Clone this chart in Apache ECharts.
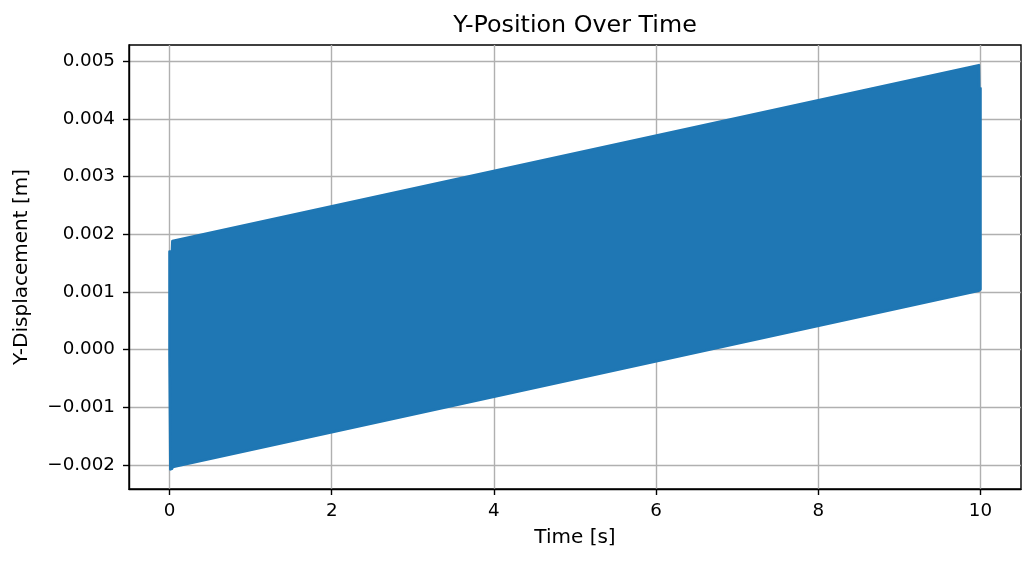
<!DOCTYPE html>
<html>
<head>
<meta charset="utf-8">
<script src="https://cdn.jsdelivr.net/npm/echarts@6/dist/echarts.min.js"></script>
<style>
  html, body { margin: 0; padding: 0; background: #fff; }
  #chart { width: 1036px; height: 563px; }
</style>
</head>
<body>
<div id="chart"></div>
<script>
// 上包络线 (time [s], displacement [m]) 从左到右
var upperTime = [0.000, 0.000, 0.030, 0.035, 9.980, 9.985, 10.000];
var upperDisp = [-0.0001, 0.00170, 0.00170, 0.00188, 0.00493, 0.00453, 0.00453];
// 下包络线 从左到右
var lowerTime = [0.000, 0.010, 0.030, 0.040, 9.980, 10.000];
var lowerDisp = [-0.0001, -0.00208, -0.00207, -0.00204, 0.00102, 0.00104];

var xTicks = [0, 2, 4, 6, 8, 10];
var yTicks = [-0.002, -0.001, 0.000, 0.001, 0.002, 0.003, 0.004, 0.005];

// 轮廓: 上沿正序 + 下沿倒序
var band = [];
for (var i = 0; i < upperTime.length; i++) band.push([upperTime[i], upperDisp[i]]);
for (var j = lowerTime.length - 1; j >= 0; j--) band.push([lowerTime[j], lowerDisp[j]]);

var font = 'DejaVu Sans';
var chart = echarts.init(document.getElementById('chart'), null, { renderer: 'canvas' });

var option = {
    animation: false,
    backgroundColor: '#fff',
    title: {
        text: 'Y-Position Over Time',
        left: 570,
        top: 9,
        textAlign: 'center',
        textStyle: { fontFamily: font, fontSize: 23.8, fontWeight: 'normal', color: '#000' }
    },
    grid: {
        left: 129, right: 15, top: 45, bottom: 74,
        show: true, borderColor: '#000', borderWidth: 1.4, backgroundColor: 'transparent'
    },
    xAxis: {
        type: 'value',
        min: -0.5,
        max: 10.5,
        name: 'Time [s]',
        nameLocation: 'middle',
        nameGap: 39,
        nameTextStyle: { fontFamily: font, fontSize: 20, color: '#000' },
        axisLine: { show: true, onZero: false, lineStyle: { color: '#000', width: 1.4 } },
        axisTick: { show: true, inside: false, length: 6, lineStyle: { color: '#000', width: 1.4 }, customValues: xTicks },
        axisLabel: { fontFamily: font, fontSize: 18.3, color: '#000', margin: 13, customValues: xTicks,
            formatter: function (v) { return String(v); } },
        splitLine: { show: true, lineStyle: { color: '#b0b0b0', width: 1.4 } }
    },
    yAxis: {
        type: 'value',
        min: -0.00242,
        max: 0.00528,
        name: 'Y-Displacement [m]',
        nameLocation: 'middle',
        nameGap: 97,
        nameTextStyle: { fontFamily: font, fontSize: 20, color: '#000' },
        axisLine: { show: true, onZero: false, lineStyle: { color: '#000', width: 1.4 } },
        axisTick: { show: true, inside: false, length: 6, lineStyle: { color: '#000', width: 1.4 }, customValues: yTicks },
        axisLabel: { fontFamily: font, fontSize: 18.3, color: '#000', margin: 14, customValues: yTicks,
            formatter: function (v) { return v.toFixed(3).replace('-', '\u2212'); } },
        splitLine: { show: true, lineStyle: { color: '#b0b0b0', width: 1.4 } }
    },
    series: [{
        type: 'custom',
        data: band,
        encode: { x: 0, y: 1 },
        renderItem: function (params, api) {
            if (params.dataIndex !== 0) return null;
            var pts = band.map(function (p) { return api.coord(p); });
            return {
                type: 'polygon',
                shape: { points: pts },
                style: { fill: '#1f77b4', stroke: '#1f77b4', lineWidth: 2.6, lineJoin: 'round' }
            };
        }
    }]
};

chart.setOption(option);
</script>
</body>
</html>
